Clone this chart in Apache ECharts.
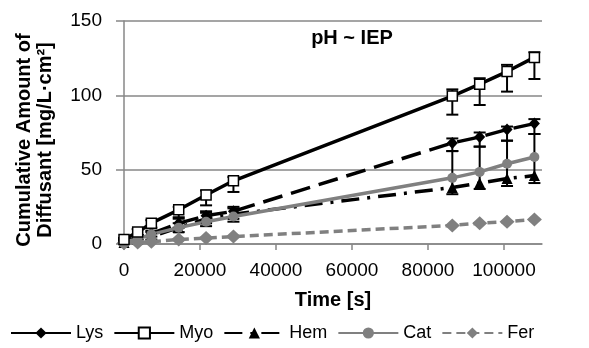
<!DOCTYPE html>
<html><head><meta charset="utf-8">
<script src="https://cdn.jsdelivr.net/npm/echarts@6/dist/echarts.min.js"></script>
<style>html,body{margin:0;padding:0;background:#fff}#c{width:589px;height:348px}</style>
</head><body><div id="c"></div>
<script>
const times = [0, 3600, 7200, 14400, 21600, 28800, 86400, 93600, 100800, 108000];
const lys = [2, 4, 7, 14, 19, 22, 68, 72, 77, 81];
const myo = [3, 8, 14, 23, 33, 42.5, 99.5, 107.5, 116, 125.5];
const hem = [1, 3, 5, 11, 17, 20, 38, 41, 44, 46];
const cat = [1, 3.5, 6.5, 11, 15, 18.5, 44.5, 48.5, 54, 58.5];
const fer = [0.5, 1, 1.5, 3, 4, 5, 12.5, 14, 15, 16.5];
const myoLow = [2, 6, 11, 18, 26, 35, 87, 93.5, 102.5, 111];
const myoHigh = [4, 10, 16, 25, 36, 45, 104, 111.5, 120.5, 129];
const lysLow = [1, 3, 5, 11, 14, 17, 62.5, 65.5, 69.5, 74];
const lysHigh = [3, 6, 9, 17, 22, 25, 71, 75, 79, 84];
const hemLow = [0, 1, 3, 8, 12, 15, 33.5, 37, 39, 41];
const hemHigh = [2, 5, 8, 14, 21, 24, 62.5, 65.5, 69.5, 74];
const xTicks = [0, 20000, 40000, 60000, 80000, 100000];
const seriesNames = ['Lys', 'Myo', 'Hem', 'Cat', 'Fer'];

const FONT = 'Liberation Sans, Arial, sans-serif';
const GRID = '#878787';
const chart = echarts.init(document.getElementById('c'), null, {renderer: 'canvas'});

function pairs(vals) { return times.map((t, i) => [t, vals[i]]); }
function errData(lo, hi) { return times.map((t, i) => [t, lo[i], hi[i]]); }
function errSeries(lo, hi, color) {
  return {
    type: 'custom', data: errData(lo, hi), z: 1, silent: true,
    encode: {x: 0, y: [1, 2]},
    renderItem: function (params, api) {
      const x = api.value(0);
      const p1 = api.coord([x, api.value(1)]);
      const p2 = api.coord([x, api.value(2)]);
      const w = 6;
      const st = {stroke: color, lineWidth: 2};
      return {type: 'group', children: [
        {type: 'line', shape: {x1: p1[0], y1: p1[1], x2: p2[0], y2: p2[1]}, style: st},
        {type: 'line', shape: {x1: p1[0] - w, y1: p1[1], x2: p1[0] + w, y2: p1[1]}, style: st},
        {type: 'line', shape: {x1: p2[0] - w, y1: p2[1], x2: p2[0] + w, y2: p2[1]}, style: st}
      ]};
    }
  };
}

const legendData = seriesNames.map(n => n === 'Lys' ? {name: n, lineStyle: {type: 'solid'}} : {name: n});

chart.setOption({
  animation: false,
  textStyle: {fontFamily: FONT},
  title: {
    text: 'pH ~ IEP', left: 347, top: 23, textAlign: 'center',
    textStyle: {fontFamily: FONT, fontWeight: 'bold', fontSize: 20, color: '#000'}
  },
  grid: {left: 124, right: 47, top: 21, bottom: 104, containLabel: false},
  legend: {
    data: legendData, left: 5, top: 319, itemWidth: 60, itemHeight: 14, itemGap: 10,
    textStyle: {fontFamily: FONT, fontSize: 18, color: '#000'}
  },
  graphic: [{
    type: 'text', x: 35, y: 140, rotation: Math.PI / 2,
    style: {
      text: 'Cumulative Amount of\nDiffusant [mg/L·cm²]', align: 'center', verticalAlign: 'middle',
      font: 'bold 20px ' + FONT, fill: '#000', lineHeight: 21
    }
  }],
  xAxis: {
    type: 'value', min: 0, max: 110000, interval: 20000,
    name: 'Time [s]', nameLocation: 'middle', nameGap: 46,
    nameTextStyle: {fontFamily: FONT, fontWeight: 'bold', fontSize: 20, color: '#000'},
    axisLine: {show: true, lineStyle: {color: GRID, width: 1.5}},
    axisTick: {show: true, length: 6, customValues: xTicks, lineStyle: {color: GRID, width: 1.5}},
    axisLabel: {customValues: xTicks, margin: 17, fontSize: 19, color: '#000', fontFamily: FONT,
      formatter: v => String(v)},
    splitLine: {show: false}
  },
  yAxis: {
    type: 'value', min: 0, max: 150, interval: 50,
    axisLine: {show: true, lineStyle: {color: GRID, width: 1.5}},
    axisTick: {show: true, length: 8, lineStyle: {color: GRID, width: 1.5}},
    axisLabel: {margin: 22, fontSize: 19, color: '#000', fontFamily: FONT},
    splitLine: {show: true, lineStyle: {color: GRID, width: 1.5}}
  },
  series: [
    errSeries(myoLow, myoHigh, '#000'),
    errSeries(lysLow, lysHigh, '#000'),
    errSeries(hemLow, hemHigh, '#000'),
    {
      name: 'Lys', type: 'line', data: pairs(lys), z: 3,
      symbol: 'diamond', symbolSize: [11, 12],
      lineStyle: {color: '#000', width: 3.5, type: [20, 9]},
      itemStyle: {color: '#000', borderWidth: 0}
    },
    {
      name: 'Myo', type: 'line', data: pairs(myo), z: 4,
      symbol: 'rect', symbolSize: 10,
      lineStyle: {color: '#000', width: 3.5},
      itemStyle: {color: '#fff', borderColor: '#000', borderWidth: 1.5}
    },
    {
      name: 'Hem', type: 'line', data: pairs(hem), z: 3,
      symbol: 'triangle', symbolSize: 11,
      lineStyle: {color: '#000', width: 3.5, type: [18, 8, 3, 8]},
      itemStyle: {color: '#000', borderWidth: 0}
    },
    {
      name: 'Cat', type: 'line', data: pairs(cat), z: 3,
      symbol: 'circle', symbolSize: 10,
      lineStyle: {color: '#808080', width: 3.5},
      itemStyle: {color: '#808080', borderWidth: 0}
    },
    {
      name: 'Fer', type: 'line', data: pairs(fer), z: 3,
      symbol: 'diamond', symbolSize: [15, 14],
      lineStyle: {color: '#808080', width: 3.5, type: [9, 5]},
      itemStyle: {color: '#808080', borderWidth: 0}
    }
  ]
});
</script></body></html>
